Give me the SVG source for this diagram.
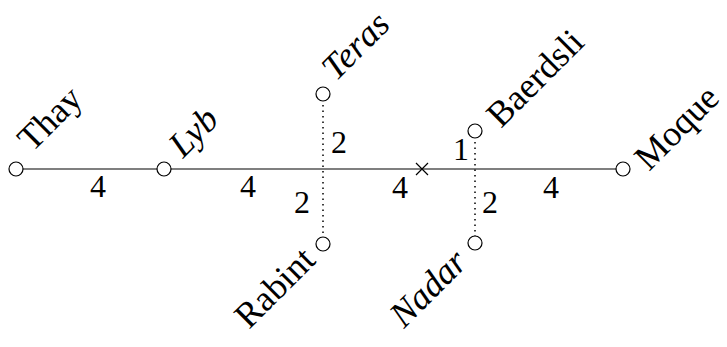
<svg xmlns="http://www.w3.org/2000/svg" width="727" height="347" viewBox="0 0 727 347">
<style>
.n{fill:#fff;stroke:#000;stroke-width:1.2}
.t{font-size:36px;fill:#000}
.i{font-style:italic}
.w{font-size:32px;fill:#000;text-anchor:middle}
.e{stroke:#555;stroke-width:1.5;fill:none}
.d{stroke:#000;stroke-width:1.5;stroke-dasharray:1.5 4;fill:none}
</style>
<rect width="727" height="347" fill="#fff"/>
<g font-family="Times New Roman, Liberation Serif, Tinos, DejaVu Serif, serif">
<g id="connectors">
<line class="e" x1="16" y1="169" x2="623" y2="169"/>
<line class="d" x1="323" y1="94" x2="323" y2="244"/>
<line class="d" x1="475" y1="131" x2="475" y2="243"/>
<text class="w" x="98" y="197">4</text>
<text class="w" x="248" y="197">4</text>
<text class="w" x="400" y="198">4</text>
<text class="w" x="551" y="198">4</text>
<text class="w" x="339" y="153">2</text>
<text class="w" x="302" y="213">2</text>
<text class="w" x="461" y="160">1</text>
<text class="w" x="490" y="213">2</text>
</g>
<g id="cross"><path d="M416 163L428 175M428 163L416 175" stroke="#000" stroke-width="1.2"/></g>
<g id="Thay"><circle class="n" cx="16" cy="169" r="7"/><text class="t" transform="translate(32,153) rotate(-45)">Thay</text></g>
<g id="Lyb"><circle class="n" cx="164" cy="169" r="7"/><text class="t i" transform="translate(183,159) rotate(-45)">Lyb</text></g>
<g id="Teras"><circle class="n" cx="323" cy="94" r="7"/><text class="t i" transform="translate(336,82) rotate(-45)">Teras</text></g>
<g id="Rabint"><circle class="n" cx="323" cy="244" r="7"/><text class="t" text-anchor="end" transform="translate(317,262) rotate(-45)">Rabint</text></g>
<g id="Baerdsli"><circle class="n" cx="475" cy="131" r="7"/><text class="t" transform="translate(501,129) rotate(-45)">Baerdsli</text></g>
<g id="Nadar"><circle class="n" cx="475" cy="243" r="7"/><text class="t i" text-anchor="end" transform="translate(469,264) rotate(-45)">Nadar</text></g>
<g id="Moque"><circle class="n" cx="623" cy="169" r="7"/><text class="t" transform="translate(649,172) rotate(-45)">Moque</text></g>
</g>
</svg>
